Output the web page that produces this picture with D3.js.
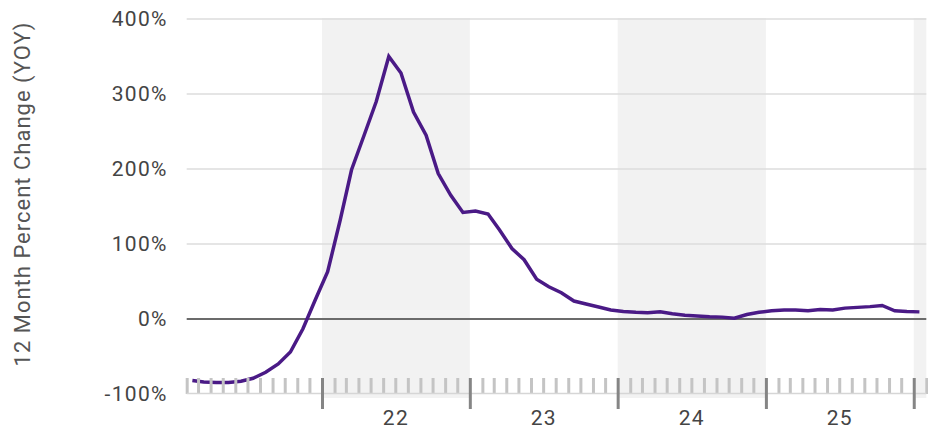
<!DOCTYPE html>
<html>
<head>
<meta charset="utf-8">
<script src="https://cdn.jsdelivr.net/npm/d3@7"></script>
<style>
  html, body { margin: 0; padding: 0; background: #fff; }
  svg { display: block; font-family: Roboto, "Noto Sans", sans-serif; }
</style>
</head>
<body>
<svg id="chart" width="928" height="430"></svg>
<script>
// ---- data ----
const months = [
  "2021-02","2021-03","2021-04","2021-05","2021-06","2021-07","2021-08","2021-09","2021-10","2021-11","2021-12",
  "2022-01","2022-02","2022-03","2022-04","2022-05","2022-06","2022-07","2022-08","2022-09","2022-10","2022-11","2022-12",
  "2023-01","2023-02","2023-03","2023-04","2023-05","2023-06","2023-07","2023-08","2023-09","2023-10","2023-11","2023-12",
  "2024-01","2024-02","2024-03","2024-04","2024-05","2024-06","2024-07","2024-08","2024-09","2024-10","2024-11","2024-12",
  "2025-01","2025-02","2025-03","2025-04","2025-05","2025-06","2025-07","2025-08","2025-09","2025-10","2025-11","2025-12",
  "2026-01"
];
const yoyChange = [
  -82, -84, -84.5, -84.5, -83, -79, -71, -60, -44, -13, 25,
  63, 132, 199, 245, 290, 350, 328, 276, 245, 194, 165, 142,
  144, 140, 119, 94, 79, 53, 43, 35, 24, 20, 16, 12,
  10, 9, 8.5, 9.5, 7, 5, 4, 3, 2.5, 1, 6, 9,
  11, 12, 12, 11, 12.5, 12, 14.5, 15.5, 16.5, 18, 11, 10,
  9.5
];
const yTicks = [-100, 0, 100, 200, 300, 400];
const yearLabels = ["22", "23", "24", "25"];
const shadedYears = [2022, 2024, 2026];
const yAxisTitle = "12 Month Percent Change (YOY)";

// ---- layout ----
const svg = d3.select("#chart");
const mLeft = 186.7, mRight = 926.3, mTop = 19, mBottom = 394;
const parse = d3.utcParse("%Y-%m");
const xStart = new Date(Date.UTC(2021, 1, 1));
const xEnd = new Date(Date.UTC(2026, 1, 1));
const x = d3.scaleUtc().domain([xStart, xEnd]).range([mLeft, mRight]);
const y = d3.scaleLinear().domain([-100, 400]).range([mBottom, mTop]);

const data = months.map((m, i) => {
  const d = parse(m);
  return { date: new Date(Date.UTC(d.getUTCFullYear(), d.getUTCMonth(), 15)), value: yoyChange[i] };
});

// shaded year bands
svg.append("g").selectAll("rect")
  .data(shadedYears)
  .join("rect")
  .attr("x", yr => x(new Date(Date.UTC(yr, 0, 1))))
  .attr("y", mTop - 1)
  .attr("width", yr => Math.min(x(new Date(Date.UTC(yr + 1, 0, 1))), mRight) - x(new Date(Date.UTC(yr, 0, 1))))
  .attr("height", 398 - mTop + 1)
  .attr("fill", "#f2f2f2");

// y axis labels
const yAxis = d3.axisLeft(y).tickValues(yTicks).tickSize(0).tickPadding(19)
  .tickFormat(d => d + "%");
const gy = svg.append("g").attr("transform", `translate(${mLeft},0)`).call(yAxis);
gy.select(".domain").remove();
gy.selectAll("text")
  .attr("fill", "#444")
  .attr("font-size", 21)
  .attr("letter-spacing", "1.3px")
  .attr("font-family", "Roboto, sans-serif");

// grid
svg.append("g").selectAll("line")
  .data(yTicks.filter(t => t > 0))
  .join("line")
  .attr("x1", mLeft).attr("x2", mRight)
  .attr("y1", d => y(d)).attr("y2", d => y(d))
  .attr("stroke", "#dcdcdc").attr("stroke-width", 1.5);

// zero line
svg.append("line")
  .attr("x1", mLeft).attr("x2", mRight)
  .attr("y1", y(0)).attr("y2", y(0))
  .attr("stroke", "#6b6b6b").attr("stroke-width", 2);

// series line
const line = d3.line().x(d => x(d.date)).y(d => y(d.value));
svg.append("path")
  .datum(data)
  .attr("d", line)
  .attr("fill", "none")
  .attr("stroke", "#4a1a86")
  .attr("stroke-width", 3.5)
  .attr("stroke-linejoin", "miter");

// month tick strip (drawn over line)
const monthTicks = d3.utcMonth.range(xStart, new Date(Date.UTC(2026, 1, 2)));
const xAxisMinor = d3.axisBottom(x).tickValues(monthTicks.filter(d => d.getUTCMonth() !== 0)).tickSize(16).tickFormat("");
const gMinor = svg.append("g").attr("transform", `translate(0,${mBottom - 16})`).call(xAxisMinor);
gMinor.select(".domain").remove();
gMinor.selectAll("line").attr("stroke", "#c4c4c4").attr("stroke-width", 3);

svg.append("line")
  .attr("x1", mLeft).attr("x2", mRight)
  .attr("y1", mBottom - 0.5).attr("y2", mBottom - 0.5)
  .attr("stroke", "#d6d6d6").attr("stroke-width", 1.5);

const yearTicks = monthTicks.filter(d => d.getUTCMonth() === 0);
const xAxisMajor = d3.axisBottom(x).tickValues(yearTicks).tickSize(31).tickFormat("");
const gMajor = svg.append("g").attr("transform", `translate(0,${mBottom - 16})`).call(xAxisMajor);
gMajor.select(".domain").remove();
gMajor.selectAll("line").attr("stroke", "#858585").attr("stroke-width", 3);

// year labels centred in each year
svg.append("g").selectAll("text")
  .data(yearLabels)
  .join("text")
  .attr("x", lab => {
    const yr = 2000 + (+lab);
    return (x(new Date(Date.UTC(yr, 0, 1))) + x(new Date(Date.UTC(yr + 1, 0, 1)))) / 2;
  })
  .attr("y", 425)
  .attr("text-anchor", "middle")
  .attr("fill", "#444")
  .attr("font-size", 21)
  .attr("letter-spacing", "1.3px")
  .text(d => d);

// y axis title
svg.append("text")
  .attr("transform", `translate(30,194) rotate(-90)`)
  .attr("text-anchor", "middle")
  .attr("fill", "#555")
  .attr("font-size", 22)
  .attr("letter-spacing", "1px")
  .text(yAxisTitle);
</script>
</body>
</html>
